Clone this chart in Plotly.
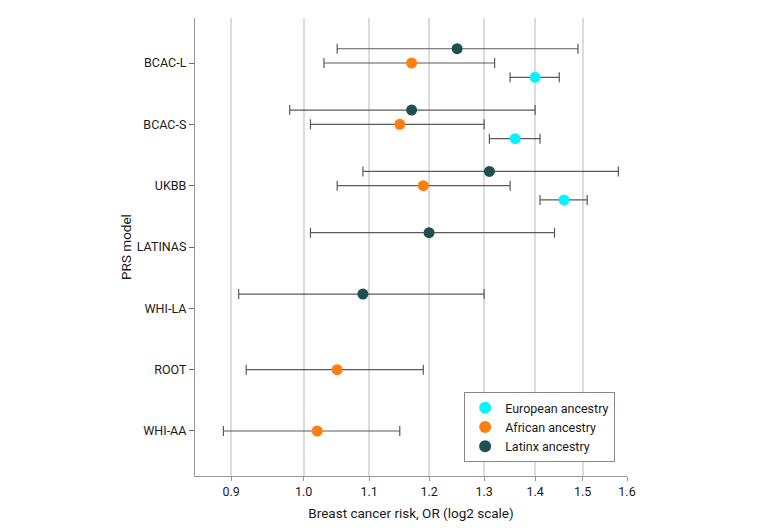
import numpy as np
import plotly.graph_objects as go

models = ["WHI-AA", "ROOT", "WHI-LA", "LATINAS", "UKBB", "BCAC-S", "BCAC-L"]
model_pos = [1, 2, 3, 4, 5, 6, 7]

# European ancestry
eur_models = ["UKBB", "BCAC-S", "BCAC-L"]
eur_or = [1.46, 1.36, 1.40]
eur_lo = [1.41, 1.31, 1.35]
eur_hi = [1.51, 1.41, 1.45]

# African ancestry
afr_models = ["WHI-AA", "ROOT", "UKBB", "BCAC-S", "BCAC-L"]
afr_or = [1.02, 1.05, 1.19, 1.15, 1.17]
afr_lo = [0.89, 0.92, 1.05, 1.01, 1.03]
afr_hi = [1.15, 1.19, 1.35, 1.30, 1.32]

# Latinx ancestry
lat_models = ["WHI-LA", "LATINAS", "UKBB", "BCAC-S", "BCAC-L"]
lat_or = [1.09, 1.20, 1.31, 1.17, 1.25]
lat_lo = [0.91, 1.01, 1.09, 0.98, 1.05]
lat_hi = [1.30, 1.44, 1.58, 1.40, 1.49]

x_ticks = [0.9, 1.0, 1.1, 1.2, 1.3, 1.4, 1.5, 1.6]
x_ticktext = ["0.9", "1.0", "1.1", "1.2", "1.3", "1.4", "1.5", "1.6"]

pos = dict(zip(models, model_pos))
FONT = "Roboto, Noto Sans, sans-serif"

fig = go.Figure()

series = [
    ("Latinx ancestry", lat_models, lat_or, lat_lo, lat_hi, "#1f4f4f", 0.233),
    ("African ancestry", afr_models, afr_or, afr_lo, afr_hi, "#ff7f0e", 0.0),
    ("European ancestry", eur_models, eur_or, eur_lo, eur_hi, "#00f5ff", -0.233),
]

for name, ms, ors, los, his, col, off in series:
    ys = [pos[m] + off for m in ms]
    fig.add_trace(go.Scatter(
        x=ors, y=ys, mode="markers", name=name,
        marker=dict(color=col, size=11, line=dict(width=0)),
        error_x=dict(type="data", symmetric=False,
                     array=[h - o for h, o in zip(his, ors)],
                     arrayminus=[o - l for o, l in zip(ors, los)],
                     color="#5a5a5a", thickness=1.2, width=5),
        showlegend=False,
    ))

# legend entries in the reference order
for name, col in [("European ancestry", "#00f5ff"), ("African ancestry", "#ff7f0e"), ("Latinx ancestry", "#1f4f4f")]:
    fig.add_trace(go.Scatter(x=[None], y=[None], mode="markers", name=name,
                             marker=dict(color=col, size=11)))

fig.update_layout(
    width=772, height=523,
    margin=dict(l=187, r=153, t=10, b=55),
    paper_bgcolor="white", plot_bgcolor="white",
    font=dict(family=FONT, size=12, color="#1a1a1a"),
    legend=dict(x=0.623, y=0.183, xanchor="left", yanchor="top",
                bgcolor="white", bordercolor="#888", borderwidth=1,
                font=dict(size=12.5), itemsizing="constant",
                tracegroupgap=0, itemwidth=30),
    xaxis=dict(type="log", range=[np.log10(0.854), np.log10(1.6)],
               tickvals=x_ticks, ticktext=x_ticktext,
               showgrid=True, gridcolor="#dcdcdc", gridwidth=1.5,
               showline=True, linecolor="#999", linewidth=1.2,
               ticks="outside", ticklen=4, tickcolor="#999",
               zeroline=False,
               title=dict(text="Breast cancer risk, OR (log2 scale)", font=dict(size=13.5), standoff=10),
               tickfont=dict(size=12.5)),
    yaxis=dict(range=[0.266, 7.734], tickvals=model_pos, ticktext=models,
               showgrid=False, showline=True, linecolor="#999", linewidth=1.2,
               ticks="outside", ticklen=5, tickcolor="#666",
               zeroline=False,
               title=dict(text="PRS model", font=dict(size=13.5), standoff=1),
               tickfont=dict(size=12.5)),
)

fig.write_html("out.html")
